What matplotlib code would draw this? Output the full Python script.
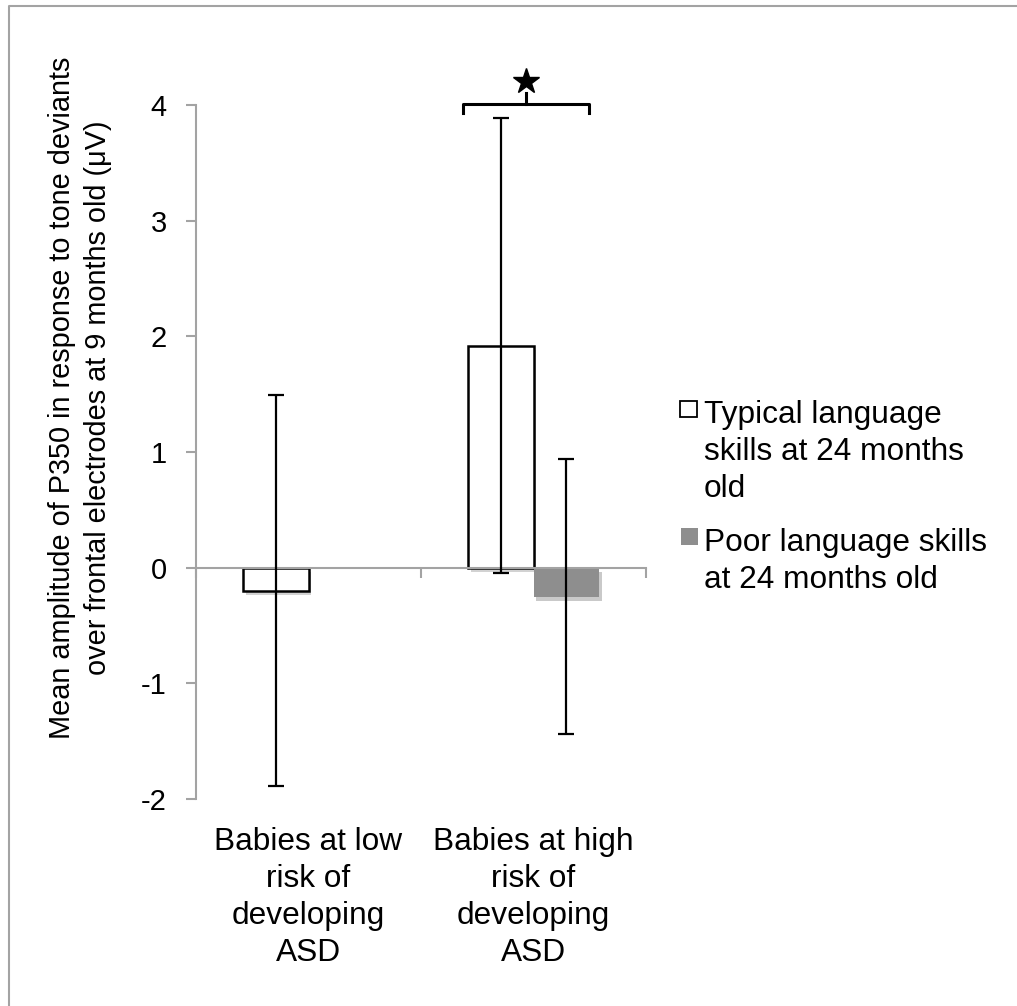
import matplotlib
matplotlib.use("Agg")
import matplotlib.pyplot as plt
import matplotlib.patheffects as pe
from matplotlib.patches import Rectangle
from matplotlib.lines import Line2D
from matplotlib.transforms import blended_transform_factory
import numpy as np

plt.rcParams['font.family'] = ['Liberation Sans', 'DejaVu Sans']
plt.rcParams['axes.unicode_minus'] = False

groups = ["Babies at low\nrisk of\ndeveloping\nASD",
          "Babies at high\nrisk of\ndeveloping\nASD"]
series = ["Typical language\nskills at 24 months\nold",
          "Poor language skills\nat 24 months old"]
typical = [-0.20, 1.92]
typical_sd = [1.69, 1.97]
poor = [np.nan, -0.25]
poor_sd = [np.nan, 1.19]
yticks = [-2, -1, 0, 1, 2, 3, 4]
ylabel = ("Mean amplitude of P350 in response to tone deviants\n"
          "over frontal electrodes at 9 months old (\u03bcV)")

W, H = 1017, 1006
GRAY = "#a3a3a3"
POOR = "#8e8e8e"

fig = plt.figure(figsize=(W / 100, H / 100), dpi=100)
ax = fig.add_axes([196 / W, 1 - 799 / H, 450 / W, 694 / H])

shadow = [pe.SimplePatchShadow(offset=(2, -3), alpha=0.25), pe.Normal()]
x = np.arange(len(groups))
w = 0.29
ax.bar(x - w / 2, typical, w, facecolor="white", edgecolor="black",
       linewidth=1.8, path_effects=shadow, zorder=2)
ax.bar(x + w / 2, poor, w, facecolor=POOR, edgecolor="none",
       path_effects=shadow, zorder=2)
ax.errorbar(x - w / 2, typical, yerr=typical_sd, fmt="none", ecolor="black",
            elinewidth=1.6, capsize=5.8, capthick=1.6, zorder=3)
ax.errorbar(x + w / 2, poor, yerr=poor_sd, fmt="none", ecolor="black",
            elinewidth=1.6, capsize=5.8, capthick=1.6, zorder=3)

ax.set_xlim(-0.5, 1.5)
ax.set_ylim(-2, 4)
ax.set_yticks(yticks)
ax.set_yticklabels([str(t) for t in yticks], fontsize=21)
ax.set_xticks([-0.5, 0.5, 1.5])
ax.set_xticklabels([])
for s in ["top", "right"]:
    ax.spines[s].set_visible(False)
ax.spines["bottom"].set_position(("data", 0))
for s in ["left", "bottom"]:
    ax.spines[s].set_color(GRAY)
    ax.spines[s].set_linewidth(1.5)
ax.tick_params(axis="y", length=7, width=1.5, color=GRAY, pad=14)
ax.tick_params(axis="x", length=7, width=1.5, color=GRAY)

trans = blended_transform_factory(ax.transData, ax.transAxes)
for i, g in enumerate(groups):
    ax.text(x[i], -0.04, g, transform=trans, ha="center", va="top",
            fontsize=22.8, linespacing=1.31)

# significance bracket with star
bx0, bx1, bxm = 0.685, 1.245, 0.965
ax.plot([bx0, bx0, bx1, bx1], [3.93, 4.01, 4.01, 3.93], color="black",
        lw=2.2, solid_joinstyle="round", clip_on=False)
ax.plot([bxm, bxm], [4.01, 4.1], color="black", lw=2.2, clip_on=False)
ax.plot([bxm], [4.21], marker="*", markersize=19, color="black", clip_on=False)

fig.text(80 / W, 1 - 398 / H, ylabel, rotation=90, ha="center", va="center",
         fontsize=20.8, linespacing=1.4, multialignment="center")

# legend
fig.add_artist(Rectangle((680 / W, 1 - 417 / H), 17 / W, 16 / H,
                         transform=fig.transFigure, facecolor="white",
                         edgecolor="black", lw=1.3))
fig.add_artist(Rectangle((681 / W, 1 - 545 / H), 17 / W, 17 / H,
                         transform=fig.transFigure, facecolor=POOR,
                         edgecolor="none"))
fig.text(704 / W, 1 - 400 / H, series[0], ha="left", va="top",
         fontsize=22.8, linespacing=1.31)
fig.text(704 / W, 1 - 528 / H, series[1], ha="left", va="top",
         fontsize=22.8, linespacing=1.31)

# frame
fig.add_artist(Line2D([9 / W, 9 / W, 1], [0, 1 - 6 / H, 1 - 6 / H],
                      transform=fig.transFigure, color=GRAY, lw=1.5))

fig.savefig("out.png", dpi=100)
